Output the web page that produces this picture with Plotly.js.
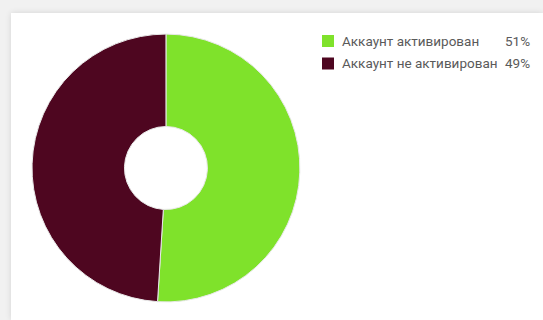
<!DOCTYPE html>
<html>
<head>
<meta charset="utf-8">
<script src="https://cdn.plot.ly/plotly-3.0.1.min.js"></script>
<style>
html,body{margin:0;padding:0;background:#f1f1f1;width:543px;height:320px;overflow:hidden;}
#card{position:absolute;left:11px;top:13px;width:532px;height:307px;background:#fff;box-shadow:0 0 6px rgba(0,0,0,0.12);}
#chart{width:532px;height:307px;}
</style>
</head>
<body>
<div id="card"><div id="chart"></div></div>
<script>
const labels = ["Аккаунт активирован", "Аккаунт не активирован"];
const values = [51, 49];
const colors = ["#7fe22b", "#4e0620"];

const total = values.reduce((a, b) => a + b, 0);
const pcts = values.map(v => Math.round(v / total * 100) + "%");

const W = 532, H = 307;
const px = x => x / W;
const py = y => 1 - y / H;

const trace = {
  type: "pie",
  labels: labels,
  values: values,
  hole: 0.31,
  sort: false,
  direction: "clockwise",
  rotation: 0,
  textinfo: "none",
  hoverinfo: "label+percent",
  marker: {colors: colors, line: {color: "#e8e8e8", width: 1}},
  domain: {x: [0.0395, 0.543], y: [0.0586, 0.9316]}
};

const legendFont = {family: "Roboto, Arial, sans-serif", size: 13.5, color: "#5a5a5a"};
const rowY = [28, 50.5];
const shapes = [];
const annotations = [];
labels.forEach((lab, i) => {
  const cy = rowY[i];
  shapes.push({
    type: "rect", xref: "paper", yref: "paper",
    x0: px(311), x1: px(323), y0: py(cy - 6), y1: py(cy + 6),
    fillcolor: colors[i], line: {width: 0}
  });
  annotations.push({
    xref: "paper", yref: "paper", x: px(329), y: py(cy),
    xanchor: "left", yanchor: "middle", text: lab, showarrow: false, font: legendFont
  });
  annotations.push({
    xref: "paper", yref: "paper", x: px(521), y: py(cy),
    xanchor: "right", yanchor: "middle", text: pcts[i], showarrow: false, font: legendFont
  });
});

const layout = {
  width: W, height: H,
  margin: {l: 0, r: 0, t: 0, b: 0},
  paper_bgcolor: "#fff",
  showlegend: false,
  shapes: shapes,
  annotations: annotations
};

Plotly.newPlot("chart", [trace], layout, {displayModeBar: false, staticPlot: true});
</script>
</body>
</html>
